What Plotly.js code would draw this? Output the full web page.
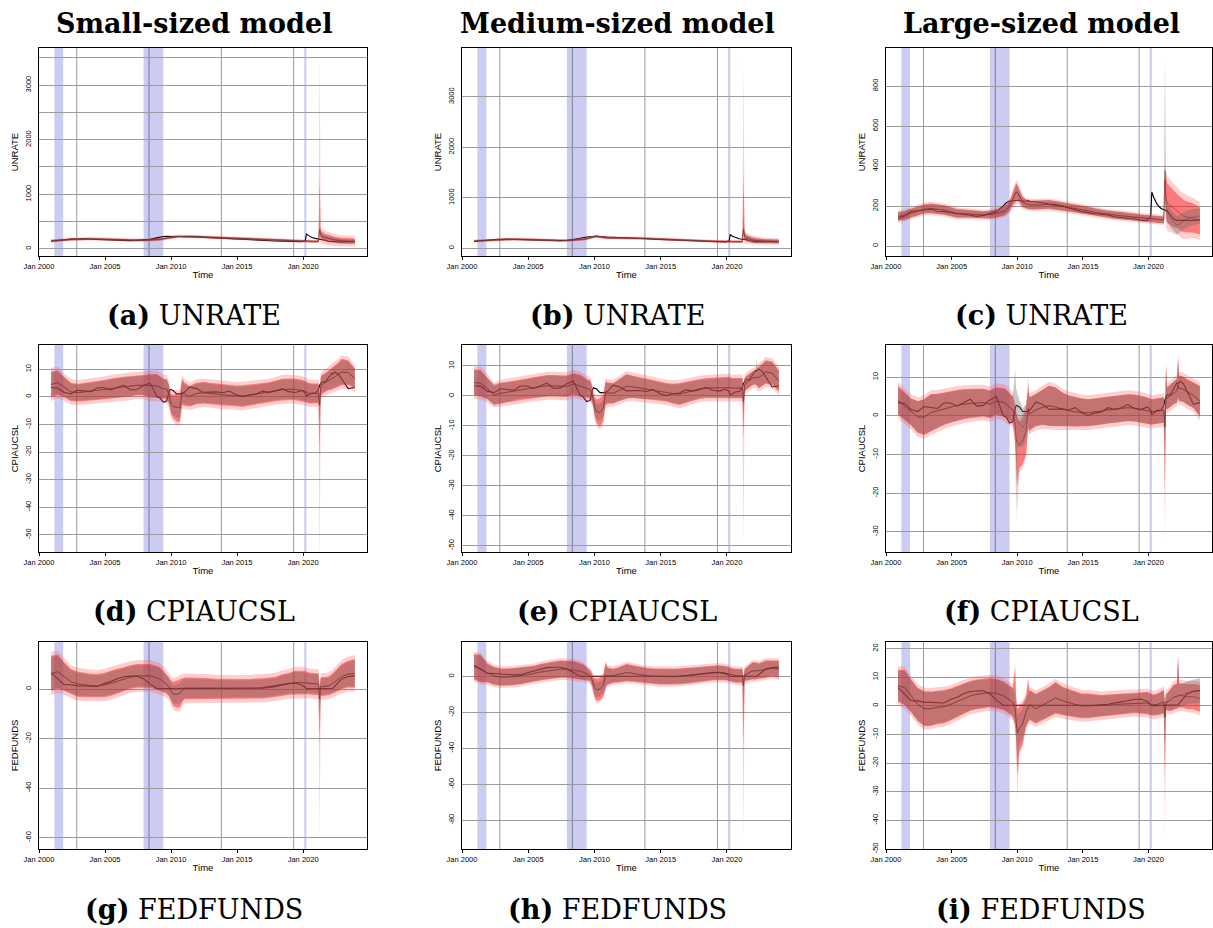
<!DOCTYPE html>
<html><head><meta charset="utf-8">
<script src="https://cdn.plot.ly/plotly-3.0.1.min.js"></script>
<style>html,body{margin:0;padding:0;background:#fff}#chart{width:1213px;height:928px}</style>
</head><body><div id="chart"></div>
<script>
// ---------------- DATA ----------------
const dates = ['2000-12','2001-06','2001-12','2002-06','2002-12','2003-06','2003-12','2004-06','2004-12','2005-06',
 '2005-12','2006-06','2006-12','2007-06','2007-12','2008-06','2008-12','2009-03','2009-06','2009-09',
 '2009-11','2009-12','2010-01','2010-03','2010-06','2010-09','2010-11','2010-12','2011-01','2011-06',
 '2011-12','2012-06','2012-12','2013-06','2013-12','2014-06','2014-12','2015-06','2015-12','2016-06',
 '2016-12','2017-06','2017-12','2018-06','2018-12','2019-06','2019-12','2020-03','2020-04','2020-06',
 '2020-09','2020-12','2021-03','2021-04','2021-05','2021-06','2021-09','2021-12','2022-03','2022-04',
 '2022-05','2022-06','2022-09','2022-12','2023-06','2023-12'];

// realised series (black lines)
const actU = [136,150,174,176,179,184,174,172,166,161, 159,153,148,153,161,172,199,216,225,228,
 230,229,229,229,224,225,228,223,221,221, 214,210,207,201,190,181,172,167,161,159,
 155,146,141,139,136,128,128,148,269,240, 207,190,181,181,176,177,155,136,128,128, 128,128,125,125,128,131];
const actC = [3.4,3.2,1.6,1.1,2.4,2.1,1.9,3.3,3.3,2.5, 3.4,4.3,2.5,2.7,4.1,5.0,0.1,-0.4,-1.9,-1.5,
 1.8,2.7,2.6,2.3,1.1,1.1,1.1,1.5,1.6,3.6, 3.0,1.7,1.7,1.8,1.5,2.1,0.8,0.1,0.7,1.0,
 2.1,1.6,2.1,2.9,1.9,1.6,2.3,1.5,0.3,0.7, 1.4,1.4,2.6,4.2,5.0,5.4,5.4,7.1,8.5,8.3, 8.6,9.0,8.2,6.4,3.0,3.4];
const actF = [6.4,4.0,1.8,1.75,1.3,1.2,1.0,1.0,2.2,3.0, 4.2,5.0,5.2,5.25,4.2,2.0,0.2,0.2,0.2,0.15,
 0.1,0.1,0.1,0.15,0.2,0.2,0.2,0.2,0.2,0.1, 0.1,0.15,0.15,0.1,0.1,0.1,0.1,0.1,0.25,0.4,
 0.55,1.05,1.3,1.8,2.3,2.4,1.55,0.65,0.05,0.08, 0.09,0.09,0.07,0.07,0.06,0.08,0.08,0.08,0.2,0.33, 0.77,1.2,2.6,4.1,5.1,5.3];

// (a) small UNRATE
const medA = [145,148,160,170,176,180,180,178,172,166, 162,160,157,155,155,158,165,172,182,195,
 202,205,207,212,220,224,225,226,226,225, 221,215,210,205,200,192,185,177,170,165,
 160,156,152,146,141,138,135,132,130,130, 130,132,135,350,250,230,205,185,170,167, 164,160,150,145,138,135];
const wOA = [30,30,30,30,30,30,30,30,30,30, 30,30,30,30,30,30,30,30,30,30, 30,30,30,30,30,30,30,30,30,30,
 30,30,30,30,30,30,30,30,30,30, 30,30,30,30,30,30,30,30,30,30, 30,30,30,120,150,140,130,120,115,112, 110,110,105,100,100,95];
const wIA = [20,20,20,20,20,20,20,20,20,20, 20,20,20,20,20,20,20,20,20,20, 20,20,20,20,20,20,20,20,20,20,
 20,20,20,20,20,20,20,20,20,20, 20,20,20,20,20,20,20,20,20,20, 20,20,20,80,90,80,70,65,60,60, 58,56,55,55,52,50];
const wGA = [15,15,15,15,15,15,15,15,15,15, 15,15,15,15,15,15,15,15,15,15, 15,15,15,15,15,15,15,15,15,15,
 15,15,15,15,15,15,15,15,15,15, 15,15,15,15,15,15,15,15,15,15, 15,15,15,40,50,45,42,40,38,38, 37,36,35,35,35,35];
const spikesA = [[53,'hiO',3600],[53,'hiI',1300],[53,'hiG',500]];

// (b) medium UNRATE
const medB = [145,150,162,172,178,182,181,178,172,166, 162,160,157,155,155,160,168,178,190,205,
 220,230,238,245,225,212,208,207,207,206, 207,208,206,202,196,189,182,175,168,163,
 158,154,150,145,140,137,134,132,131,130, 130,130,132,380,240,210,180,165,155,153, 151,148,144,140,138,135];
const wOB = [30,30,30,30,30,30,30,30,30,30, 30,30,30,30,30,30,30,30,30,30, 30,30,30,30,30,30,30,30,30,30,
 30,30,30,30,30,30,30,30,30,30, 30,30,30,30,30,30,30,30,30,30, 30,30,30,150,150,120,100,90,80,78, 76,75,72,70,65,60];
const wIB = [20,20,20,20,20,20,20,20,20,20, 20,20,20,20,20,20,20,20,20,20, 20,20,20,20,20,20,20,20,20,20,
 20,20,20,20,20,20,20,20,20,20, 20,20,20,20,20,20,20,20,20,20, 20,20,20,90,90,70,60,55,50,48, 46,45,43,42,40,40];
const wGB = [15,15,15,15,15,15,15,15,15,15, 15,15,15,15,15,15,15,15,15,15, 15,15,15,15,15,15,15,15,15,15,
 15,15,15,15,15,15,15,15,15,15, 15,15,15,15,15,15,15,15,15,15, 15,15,15,60,60,55,50,45,40,40, 38,38,36,35,35,35];
const spikesB = [[53,'hiO',3700],[53,'hiI',1500],[53,'hiG',700]];

// (c) large UNRATE
const medC = [148,152,165,175,185,188,185,180,172,163, 162,160,157,155,157,163,172,182,200,235,
 258,270,268,250,220,210,206,205,205,205, 207,208,203,198,192,187,182,176,168,163,
 158,155,151,148,145,141,138,137,136,135, 133,131,130,330,240,215,200,185,175,172, 168,160,150,145,140,125];
const gmedC = [148,152,165,175,185,188,185,180,172,163, 162,160,157,155,157,163,172,182,200,235,
 258,270,268,250,220,210,206,205,205,205, 207,208,203,198,192,187,182,176,168,163,
 158,155,151,148,145,141,138,137,136,135, 133,131,130,380,200,170,140,120,105,106, 108,112,125,135,145,150];
const wOC = [30,30,30,30,32,33,33,33,32,30, 28,27,26,26,27,28,30,32,35,45, 55,60,55,45,35,30,30,30,30,30,
 30,30,30,28,28,28,27,26,26,26, 26,26,25,25,25,24,25,25,25,25, 25,25,25,70,140,140,130,125,120,118, 116,115,115,110,100,95];
const wIC = [22,22,22,22,23,24,24,24,23,22, 20,20,19,19,20,20,22,23,25,33, 40,44,40,33,25,22,22,22,22,22,
 22,22,22,20,20,20,20,19,19,19, 19,19,18,18,18,17,18,18,18,18, 18,18,18,50,100,100,95,90,85,84, 83,82,80,78,72,68];
const wGC = [20,20,20,20,21,22,22,22,21,20, 18,18,17,17,18,18,20,20,20,24, 28,30,28,24,22,20,20,20,20,20,
 20,20,20,18,18,18,18,17,17,17, 17,17,16,16,16,15,16,16,16,16, 16,16,16,40,50,45,45,45,45,45, 44,44,42,42,40,38];
const spikesC = [[53,'hiG',950]];

// (d) small CPIAUCSL
const medD = [4.5,5.2,3.5,1.8,1.5,1.8,2.0,2.3,2.6,3.0, 3.3,3.6,3.8,4.2,4.2,4.0,4.0,3.5,3.0,2.8,
 1.0,-1.0,-2.5,-3.5,-3.8,-4.0,1.8,1.5,1.0,0.2, 1.2,1.5,1.2,0.9,0.7,0.5,0.4,0.3,0.6,1.0,
 1.3,1.7,2.2,2.7,2.8,2.7,2.3,2.0,1.8,1.3, 1.2,1.2,1.3,-3.0,3.5,4.5,5.2,6.0,6.5,6.8, 7.0,7.3,8.0,9.0,8.8,6.7];
const wOD = [6,5.7,5,4.6,4.5,4.5,4.6,4.7,4.8,4.9, 5,5,5,4.9,5,5.5,5.6,5.2,5,5, 4.8,4.5,5,5.5,6.4,6.4,6,5.8,5.5,5,
 5.2,5.2,5.2,5.2,5.1,5,5,5.2,5.1,5, 5,4.9,5,5.2,5.2,5.2,5.2,5.2,5.1,5, 4.9,4.9,4.9,6,5,4.8,4.8,4.9,5.2,5.3, 5.4,5.5,5.8,6.1,5.8,4.9];
const wID = [4.7,4.4,3.7,3.3,3.2,3.2,3.3,3.4,3.5,3.6, 3.7,3.7,3.7,3.6,3.7,4.2,4.3,3.9,3.7,3.7, 3.5,3.2,3.7,4.2,5.1,5.1,4.7,4.5,4.2,3.7,
 3.9,3.9,3.9,3.9,3.8,3.7,3.7,3.9,3.8,3.7, 3.7,3.6,3.7,3.9,3.9,3.9,3.9,3.9,3.8,3.7, 3.6,3.6,3.6,4.7,3.7,3.5,3.5,3.6,3.9,4.0, 4.1,4.2,4.5,4.8,4.5,3.6];
const wGD = [4.3,4.0,3.4,3.0,2.9,2.9,3.0,3.1,3.2,3.3, 3.4,3.4,3.4,3.3,3.4,3.8,3.9,3.5,3.3,3.3, 3.0,2.7,3.0,3.2,3.6,3.6,3.9,3.8,3.6,3.3,
 3.5,3.5,3.5,3.5,3.4,3.3,3.3,3.5,3.4,3.3, 3.3,3.2,3.3,3.5,3.5,3.5,3.5,3.5,3.4,3.3, 3.2,3.2,3.2,4.0,3.2,3.0,3.0,3.1,3.4,3.5, 3.6,3.7,4.0,4.3,4.0,3.2];
const spikesD = [[53,'loO',-62],[53,'loI',-22],[53,'loG',-9]];

// (e) medium CPIAUCSL
const medE = [4.5,4.2,2.5,0.3,0.9,1.3,1.7,2.1,2.5,2.8, 3.1,3.4,3.4,3.4,3.2,4.0,3.5,3.0,2.5,2.2,
 0.5,-1.5,-3.5,-5.2,-5.5,-4.0,0.8,1.0,1.0,0.9, 2.0,3.2,3.0,2.6,2.4,2.0,1.6,1.2,0.8,0.6,
 1.2,1.8,2.3,2.6,2.7,2.8,2.8,2.8,2.7,2.6, 2.6,2.6,2.6,-2.0,3.5,4.2,5.0,5.9,6.2,6.2, 6.2,6.2,7.0,8.0,7.6,5.0];
const wOE = [5.5,5.5,4.7,4.1,4.5,4.5,4.4,4.4,4.6,4.7, 4.7,4.7,4.7,4.7,4.7,4.7,4.7,4.5,4.2,4.2, 3.8,3.4,4.2,5.0,5.8,5.5,5.0,4.8,4.6,4.5,
 4.8,5.0,4.8,4.7,4.6,4.5,4.3,4.2,4.4,4.7, 4.6,4.5,4.4,4.4,4.5,4.6,4.7,4.7,4.6,4.5, 4.5,4.5,4.5,5.0,3.5,3.4,3.4,3.4,3.5,3.8, 4.2,4.7,4.8,5.0,5.0,4.7];
const wIE = [4.4,4.4,3.6,3.0,3.4,3.4,3.3,3.3,3.5,3.6, 3.6,3.6,3.6,3.6,3.6,3.6,3.6,3.4,3.1,3.1, 2.7,2.3,3.1,3.9,4.7,4.4,3.9,3.7,3.5,3.4,
 3.7,3.9,3.7,3.6,3.5,3.4,3.2,3.1,3.3,3.6, 3.5,3.4,3.3,3.3,3.4,3.5,3.6,3.6,3.5,3.4, 3.4,3.4,3.4,3.9,2.4,2.3,2.3,2.3,2.4,2.7, 3.1,3.6,3.7,3.9,3.9,3.6];
const wGE = [4.1,4.1,3.5,3.6,3.5,3.2,3.0,3.0,3.2,3.3, 3.3,3.3,3.3,3.3,3.3,3.3,3.3,3.1,2.8,2.8, 2.4,2.0,2.2,2.5,2.8,2.8,3.4,3.4,3.3,3.2,
 3.6,4.2,3.6,3.3,3.2,3.1,2.9,2.8,3.0,3.3, 3.2,3.1,3.0,3.0,3.1,3.2,3.3,3.3,3.2,3.1, 3.1,3.1,3.1,3.0,2.2,2.1,2.1,2.1,2.2,2.5, 2.8,3.3,3.4,3.6,3.6,3.3];
const spikesE = [[53,'loO',-50],[53,'loI',-14],[53,'loG',-6],[59,'hiG',12]];

// (f) large CPIAUCSL
const medF = [4.0,2.5,1.0,-0.3,-0.3,0.8,1.3,1.8,2.3,2.7, 3.0,3.2,3.3,3.4,3.0,3.8,3.5,3.0,2.3,1.5,
 -2.0,-6.0,-7.0,-7.5,-6.5,-4.0,2.0,0.5,0.6,1.5, 2.2,2.6,2.3,1.7,1.3,1.0,0.9,0.8,1.0,1.3,
 1.5,1.7,1.9,2.1,2.0,1.7,1.3,1.0,1.0,1.1, 1.2,1.4,1.5,-3.0,5.0,4.5,5.2,6.0,6.5,8.0, 7.0,7.1,6.8,6.2,5.3,3.8];
const gmedF = [4.0,2.5,1.0,-0.3,-0.3,0.8,1.3,1.8,2.3,2.7, 3.0,3.2,3.3,3.4,3.0,3.8,3.5,3.0,2.3,1.5,
 1.0,0.0,-1.0,-2.0,-3.0,-1.5,1.5,0.5,0.6,1.5, 2.2,2.6,2.3,1.7,1.3,1.0,0.9,0.8,1.0,1.3,
 1.5,1.7,1.9,2.1,2.0,1.7,1.3,1.0,1.0,1.1, 1.2,1.4,1.5,-3.0,5.0,4.5,5.2,6.0,6.5,8.0, 7.0,7.1,6.8,6.2,5.3,3.8];
const wOF = [4.7,4.5,4.5,5.1,5.6,5.8,5.4,5.2,5.1,5.0, 4.9,4.8,4.7,4.6,4.6,4.6,4.7,4.8,4.5,4.5, 5.5,7.0,7.0,7.0,7.0,7.0,6.0,5.5,5.3,5.2,
 5.6,6.2,6.0,5.4,5.0,4.8,4.6,4.5,4.5,4.5, 4.5,4.5,4.5,4.5,4.5,4.5,4.4,4.3,4.3,4.3, 4.3,4.3,4.3,5.0,4.0,3.9,3.9,4.0,4.1,4.3, 4.3,4.3,4.3,4.3,4.3,5.0];
const wIF = [3.7,3.5,3.5,4.1,4.6,4.8,4.4,4.2,4.1,4.0, 3.9,3.8,3.7,3.6,3.6,3.6,3.7,3.8,3.5,3.5, 4.5,6.0,6.0,6.0,6.0,6.0,5.0,4.5,4.3,4.2,
 4.6,5.2,5.0,4.4,4.0,3.8,3.6,3.5,3.5,3.5, 3.5,3.5,3.5,3.5,3.5,3.5,3.4,3.3,3.3,3.3, 3.3,3.3,3.3,4.0,3.0,2.9,2.9,3.0,3.1,3.3, 3.3,3.3,3.3,3.3,3.3,4.0];
const wGF = [3.4,3.3,3.4,4.0,4.6,4.8,4.3,4.0,3.9,3.8, 3.7,3.6,3.5,3.4,3.4,3.4,3.5,3.6,3.3,3.5, 5.0,7.0,7.0,6.0,5.0,4.5,4.5,4.3,4.1,4.0,
 4.4,5.2,5.0,4.3,3.9,3.7,3.6,3.4,3.4,3.4, 3.4,3.4,3.4,3.4,3.4,3.4,3.3,3.2,3.2,3.2, 3.2,3.2,3.2,4.0,3.0,2.8,2.8,2.9,3.0,3.2, 3.2,3.2,3.2,3.2,3.2,3.8];
const spikesF = [[20,'hiG',12],[21,'loG',-27],[22,'loO',-25],[22,'loI',-18],[26,'hiO',10],[26,'hiI',8],
 [53,'loO',-32],[53,'loI',-20],[53,'loG',-9],[54,'hiO',14],[54,'hiI',13],[54,'hiG',12],[59,'hiO',16],[59,'hiI',15],[59,'hiG',14]];

// (g) small FEDFUNDS
const medG = [6.3,7.0,5.0,3.0,2.0,1.6,1.4,1.3,1.6,2.3, 3.2,4.0,4.8,5.3,5.3,5.3,4.5,4.0,3.0,2.0,
 1.0,0.0,-1.0,-2.0,-2.1,-1.7,-0.5,0.0,0.3,0.3, 0.3,0.3,0.2,0.1,0.0,0.0,0.0,0.0,0.0,0.1,
 0.3,0.6,0.9,1.6,2.1,2.6,2.6,2.5,2.4,2.3, 2.1,2.0,2.0,-4.0,1.0,1.0,1.1,1.3,2.0,2.3, 2.6,3.0,4.0,5.0,6.0,6.3];
const wOG = [8.7,8.5,7.4,6.7,6.7,6.5,6.4,6.4,6.5,6.7, 6.6,6.4,6.4,6.4,6.4,6.4,6.4,6.4,6.0,5.5, 5.4,5.5,6.0,6.4,7.0,7.4,6.5,6.0,6.0,6.0,
 6.0,6.0,5.8,5.7,5.7,5.7,5.7,5.7,5.7,5.7, 5.7,5.7,5.7,6.0,6.0,6.4,6.4,6.4,6.2,6.0, 6.0,6.0,6.0,6.0,5.4,5.4,5.4,5.4,5.6,5.8, 6.0,6.0,6.4,6.7,7.0,7.4];
const wIG = [7.1,6.9,5.8,5.1,5.1,4.9,4.8,4.8,4.9,5.1, 5.0,4.8,4.8,4.8,4.8,4.8,4.8,4.8,4.4,3.9, 3.8,3.9,4.4,4.8,5.4,5.8,4.9,4.4,4.4,4.4,
 4.4,4.4,4.2,4.1,4.1,4.1,4.1,4.1,4.1,4.1, 4.1,4.1,4.1,4.4,4.4,4.8,4.8,4.8,4.6,4.4, 4.4,4.4,4.4,4.4,3.8,3.8,3.8,3.8,4.0,4.2, 4.4,4.4,4.8,5.1,5.4,5.8];
const wGG = [6.6,6.4,5.3,4.6,4.6,4.4,4.3,4.3,4.4,4.6, 4.5,4.3,4.3,4.3,4.3,4.3,4.3,4.3,3.9,3.4, 3.3,3.2,3.4,3.6,3.8,4.0,4.2,3.9,3.9,3.9,
 3.9,3.9,3.7,3.6,3.6,3.6,3.6,3.6,3.6,3.6, 3.6,3.6,3.6,3.9,3.9,4.3,4.3,4.3,4.1,3.9, 3.9,3.9,3.9,3.9,3.3,3.3,3.3,3.3,3.5,3.7, 3.9,3.9,4.3,4.6,4.9,5.3];
const spikesG = [[53,'loO',-60],[53,'loI',-22],[53,'loG',-11]];

// (h) medium FEDFUNDS
const medH = [5.5,4.5,2.0,0.5,-0.3,-0.3,0.0,0.5,1.0,1.8, 2.5,3.2,3.7,4.2,4.2,3.7,3.0,2.5,1.6,0.5,
 -2.0,-4.6,-6.0,-7.4,-6.8,-5.0,0.8,0.5,0.3,0.5, 1.2,2.3,1.8,1.0,0.6,0.2,0.0,0.0,0.0,0.2,
 0.5,1.0,1.4,1.8,2.1,2.3,2.0,1.4,1.2,0.8, 0.5,0.5,0.5,-5.0,1.0,1.2,2.2,3.2,3.2,3.2, 3.2,3.2,3.6,4.2,4.6,4.2];
const wOH = [8.3,8.8,6.5,6.2,6.0,6.0,6.0,6.0,5.8,5.5, 5.8,6.0,6.0,6.0,6.0,6.2,5.8,5.5,4.8,4.2, 5.0,5.6,6.5,7.4,7.4,7.0,7.9,6.5,6.0,5.1,
 5.5,6.0,5.8,5.5,5.5,5.6,5.6,5.6,5.6,5.6, 5.6,5.5,5.5,5.5,5.3,5.3,5.2,5.1,5.1,5.1, 5.1,5.1,5.1,6.0,4.5,4.8,5.3,6.0,6.0,5.8, 5.6,5.5,5.8,6.0,5.6,6.0];
const wIH = [7.1,7.6,5.3,5.0,4.8,4.8,4.8,4.8,4.6,4.3, 4.6,4.8,4.8,4.8,4.8,5.0,4.6,4.3,3.6,3.0, 3.8,4.4,5.3,6.2,6.2,5.8,6.7,5.3,4.8,3.9,
 4.3,4.8,4.6,4.3,4.3,4.4,4.4,4.4,4.4,4.4, 4.4,4.3,4.3,4.3,4.1,4.1,4.0,3.9,3.9,3.9, 3.9,3.9,3.9,4.8,3.3,3.6,4.1,4.8,4.8,4.6, 4.4,4.3,4.6,4.8,4.4,4.8];
const wGH = [6.7,7.2,4.9,4.6,4.4,4.4,4.4,4.4,4.2,3.9, 4.2,4.4,4.4,4.4,4.4,4.6,4.2,3.9,3.2,2.6, 2.8,3.0,3.5,4.0,4.0,4.2,6.0,4.9,4.4,3.5,
 3.9,4.4,4.2,3.9,3.9,4.0,4.0,4.0,4.0,4.0, 4.0,3.9,3.9,3.9,3.7,3.7,3.6,3.5,3.5,3.5, 3.5,3.5,3.5,4.0,2.9,3.2,3.7,4.4,4.4,4.2, 4.0,3.9,4.2,4.4,4.0,4.4];
const spikesH = [[53,'loO',-92],[53,'loI',-40],[53,'loG',-20]];

// (i) large FEDFUNDS
const medI = [7.0,6.4,3.5,0.5,-1.0,-1.0,-0.5,-0.3,0.5,1.5, 2.5,3.5,4.0,4.3,4.6,4.3,3.6,2.9,2.0,1.2,
 -1.0,-5.0,-9.4,-8.0,-6.2,-2.1,-0.5,0.2,0.2,-1.0, 0.2,1.4,2.8,1.8,1.1,0.5,0.0,0.0,0.0,0.0,
 0.2,0.5,0.6,0.8,1.0,1.1,1.0,0.5,0.4,0.3, 0.5,1.0,1.4,-4.0,1.4,1.4,2.0,3.0,3.4,3.6, 3.6,3.7,3.5,3.2,3.2,2.6];
const gmedI = [7.0,6.4,3.5,0.5,-1.0,-1.0,-0.5,-0.3,0.5,1.5, 2.5,3.5,4.0,4.3,4.6,4.3,3.6,2.9,2.0,1.2,
 -1.0,-5.0,-9.4,-8.0,-6.2,-2.1,-0.5,0.2,0.2,-1.0, 0.2,1.4,2.8,1.8,1.1,0.5,0.0,0.0,0.0,0.0,
 0.2,0.5,0.6,0.8,1.0,1.1,1.0,0.5,0.4,0.3, 0.5,1.0,1.4,-4.0,1.4,1.4,2.0,3.0,3.4,3.6, 3.6,3.7,4.0,4.5,5.0,5.3];
const wOI = [6.8,7.3,7.0,7.0,7.3,7.2,7.0,7.0,6.8,6.7, 6.6,6.4,6.4,6.4,6.3,6.3,6.2,6.1,6.1,6.3, 7.0,8.5,9.5,9.0,8.2,6.4,6.4,6.4,6.4,6.4,
 6.4,6.4,6.7,6.2,6.0,5.7,5.5,5.5,5.2,5.0, 5.0,4.9,4.8,4.8,4.7,4.9,5.1,5.0,5.0,4.9, 5.0,5.2,5.4,6.0,4.1,4.2,5.0,5.6,5.6,5.6, 5.6,5.4,5.4,5.5,5.6,5.9];
const wII = [5.6,6.1,5.8,5.8,6.1,6.0,5.8,5.8,5.6,5.5, 5.4,5.2,5.2,5.2,5.1,5.1,5.0,4.9,4.9,5.1, 5.8,7.3,8.3,7.8,7.0,5.2,5.2,5.2,5.2,5.2,
 5.2,5.2,5.5,5.0,4.8,4.5,4.3,4.3,4.0,3.8, 3.8,3.7,3.6,3.6,3.5,3.7,3.9,3.8,3.8,3.7, 3.8,4.0,4.2,4.8,2.9,3.0,3.8,4.4,4.4,4.4, 4.4,4.2,4.2,4.3,4.4,4.7];
const wGI = [5.3,5.8,5.5,5.5,5.8,5.7,5.5,5.5,5.3,5.2, 5.1,4.9,4.9,4.9,4.8,4.8,4.7,4.6,4.6,4.8, 5.0,5.5,6.0,5.5,5.0,4.9,4.9,4.9,4.9,4.9,
 4.9,4.9,5.2,4.7,4.5,4.2,4.0,4.0,3.7,3.5, 3.5,3.4,3.3,3.3,3.2,3.4,3.6,3.5,3.5,3.4, 3.5,3.7,3.9,4.5,2.6,2.7,3.5,4.1,4.1,4.1, 4.1,3.9,3.9,4.0,4.1,4.4];
const spikesI = [[20,'hiO',15],[20,'hiI',13],[22,'loO',-32],[22,'loI',-24],[22,'loG',-18],[26,'hiO',10],[26,'hiI',9],
 [53,'loO',-46],[53,'loI',-25],[53,'loG',-14],[59,'hiO',19],[59,'hiI',17],[59,'hiG',16]];

// axis labels
const ytA = [0,1000,2000,3000], ymA = [500,1500,2500,3500];
const ytB = [0,1000,2000,3000];
const ytC = [0,200,400,600,800];
const ytD = [-50,-40,-30,-20,-10,0,10];
const ytE = [-50,-40,-30,-20,-10,0,10];
const ytF = [-30,-20,-10,0,10];
const ytG = [-60,-40,-20,0];
const ytH = [-80,-60,-40,-20,0];
const ytI = [-50,-40,-30,-20,-10,0,10,20];

const recessions = [['2001-03-01','2001-11-01'],['2007-12-01','2009-06-01'],['2020-02-01','2020-04-01']];
const dateGrid = ['2002-11-09','2008-04-30','2013-10-22','2019-04-14'];
const xTickVals = ['2000-01-01','2005-01-01','2010-01-01','2015-01-01','2020-01-01'];
const xTickText = ['Jan 2000','Jan 2005','Jan 2010','Jan 2015','Jan 2020'];
const colTitles = ['Small-sized model','Medium-sized model','Large-sized model'];
const varNames = ['UNRATE','CPIAUCSL','FEDFUNDS'];
const letters = ['a','b','c','d','e','f','g','h','i'];

// ---------------- BUILD ----------------
const W = 1213, H = 928;
const colPx = [[39,367],[462,791],[886,1212]];
const rowPx = [[48,256],[345,552],[642,849]];
const yRanges = [[-134,3683],[-152,3966],[-50,990],[-56.2,18.8],[-52.1,17.0],[-35.2,18.3],[-64.6,19],[-96,19.3],[-50,22.3]];
const capY = [315, 611, 909];
const colCx = [194, 617, 1041];

const panels = [
 {act:actU, med:medA, gmed:medA, wO:wOA, wI:wIA, wG:wGA, sp:spikesA, yt:ytA, ym:ymA},
 {act:actU, med:medB, gmed:medB, wO:wOB, wI:wIB, wG:wGB, sp:spikesB, yt:ytB},
 {act:actU, med:medC, gmed:gmedC, wO:wOC, wI:wIC, wG:wGC, sp:spikesC, yt:ytC},
 {act:actC, med:medD, gmed:medD, wO:wOD, wI:wID, wG:wGD, sp:spikesD, yt:ytD},
 {act:actC, med:medE, gmed:medE, wO:wOE, wI:wIE, wG:wGE, sp:spikesE, yt:ytE},
 {act:actC, med:medF, gmed:gmedF, wO:wOF, wI:wIF, wG:wGF, sp:spikesF, yt:ytF},
 {act:actF, med:medG, gmed:medG, wO:wOG, wI:wIG, wG:wGG, sp:spikesG, yt:ytG},
 {act:actF, med:medH, gmed:medH, wO:wOH, wI:wIH, wG:wGH, sp:spikesH, yt:ytH},
 {act:actF, med:medI, gmed:gmedI, wO:wOI, wI:wII, wG:wGI, sp:spikesI, yt:ytI}
];

const sans = 'Liberation Sans, Arial, Helvetica, sans-serif';
const serif = 'DejaVu Serif, Liberation Serif, serif';
const data = [], shapes = [], annotations = [];
const layout = {width:W, height:H, margin:{l:0,r:0,t:0,b:0}, paper_bgcolor:'#fff', plot_bgcolor:'#fff',
  showlegend:false, font:{family:sans, color:'#000'}};

panels.forEach((p, k) => {
  const r = Math.floor(k/3), c = k % 3;
  const ax = k === 0 ? '' : String(k+1);
  const xa = 'x' + ax, ya = 'y' + ax;
  const band = (m, w, key) => {
    const lo = m.map((v,i) => v - w[i]), hi = m.map((v,i) => v + w[i]);
    p.sp.forEach(s => { if (s[1] === 'lo'+key) lo[s[0]] = s[2]; if (s[1] === 'hi'+key) hi[s[0]] = s[2]; });
    return [lo, hi];
  };
  const addBand = (lh, color) => {
    data.push({type:'scatter', x:dates, y:lh[0], xaxis:xa, yaxis:ya, mode:'lines', line:{width:0, color:color}, hoverinfo:'skip'});
    data.push({type:'scatter', x:dates, y:lh[1], xaxis:xa, yaxis:ya, mode:'lines', line:{width:0, color:color}, fill:'tonexty', fillcolor:color, hoverinfo:'skip'});
  };
  // realised series first, so the translucent fans sit over it
  data.push({type:'scatter', x:dates, y:p.act, xaxis:xa, yaxis:ya, mode:'lines', line:{width:1.1, color:'#000'}});
  addBand(band(p.med, p.wO, 'O'), 'rgba(255,80,80,0.28)');
  addBand(band(p.med, p.wI, 'I'), 'rgba(240,20,20,0.45)');
  addBand(band(p.gmed, p.wG, 'G'), 'rgba(105,100,100,0.36)');
  data.push({type:'scatter', x:dates, y:p.gmed, xaxis:xa, yaxis:ya, mode:'lines', line:{width:0.8, color:'rgba(70,70,70,0.5)'}});
  data.push({type:'scatter', x:dates, y:p.med, xaxis:xa, yaxis:ya, mode:'lines', line:{width:1, color:'rgba(140,40,40,0.55)'}});

  recessions.forEach(rc => shapes.push({type:'rect', xref:xa, yref:ya+' domain', x0:rc[0], x1:rc[1], y0:0, y1:1,
    fillcolor:'rgba(0,0,190,0.2)', line:{width:0}, layer:'below'}));
  dateGrid.forEach(d => shapes.push({type:'line', xref:xa, yref:ya+' domain', x0:d, x1:d, y0:0, y1:1,
    line:{color:'rgba(0,0,0,0.4)', width:1}, layer:'below'}));

  layout['xaxis'+ax] = {domain:[colPx[c][0]/W, colPx[c][1]/W], anchor:ya, type:'date',
    range:['2000-01-01','2024-11-01'], tickmode:'array', tickvals:xTickVals, ticktext:xTickText,
    ticks:'outside', ticklen:3, tickwidth:1, tickcolor:'#000', showgrid:false, zeroline:false,
    showline:true, mirror:true, linecolor:'#000', linewidth:1.3,
    tickfont:{family:sans, size:7.5, color:'#000'},
    title:{text:'Time', font:{family:sans, size:9.5, color:'#000'}, standoff:1}};
  const ycfg = {domain:[1-rowPx[r][1]/H, 1-rowPx[r][0]/H], anchor:xa, range:yRanges[k],
    tickmode:'array', tickvals:p.yt, ticktext:p.yt.map(String), tickangle:-90,
    ticks:'', showgrid:true, gridcolor:'#9c9c9c', gridwidth:1, zeroline:false,
    showline:true, mirror:true, linecolor:'#000', linewidth:1.3, ticklabelstandoff:4,
    tickfont:{family:sans, size:7.5, color:'#000'},
    title:{text:varNames[r], font:{family:sans, size:9.5, color:'#000'}, standoff:3}};
  if (p.ym) ycfg.minor = {tickmode:'array', tickvals:p.ym, showgrid:true, gridcolor:'#9c9c9c', gridwidth:1, ticks:''};
  layout['yaxis'+ax] = ycfg;

  annotations.push({xref:'paper', yref:'paper', x:colCx[c]/W, y:1-capY[r]/H, xanchor:'center', yanchor:'middle',
    showarrow:false, text:'<b>(' + letters[k] + ')</b> ' + varNames[r], font:{family:serif, size:27, color:'#000'}});
});
colTitles.forEach((t, c) => annotations.push({xref:'paper', yref:'paper', x:colCx[c]/W, y:1-24/H,
  xanchor:'center', yanchor:'middle', showarrow:false, text:'<b>'+t+'</b>', font:{family:serif, size:27, color:'#000'}}));

layout.shapes = shapes;
layout.annotations = annotations;
data.forEach(t => { t.showlegend = false; });
Plotly.newPlot('chart', data, layout, {staticPlot:true});
</script></body></html>
